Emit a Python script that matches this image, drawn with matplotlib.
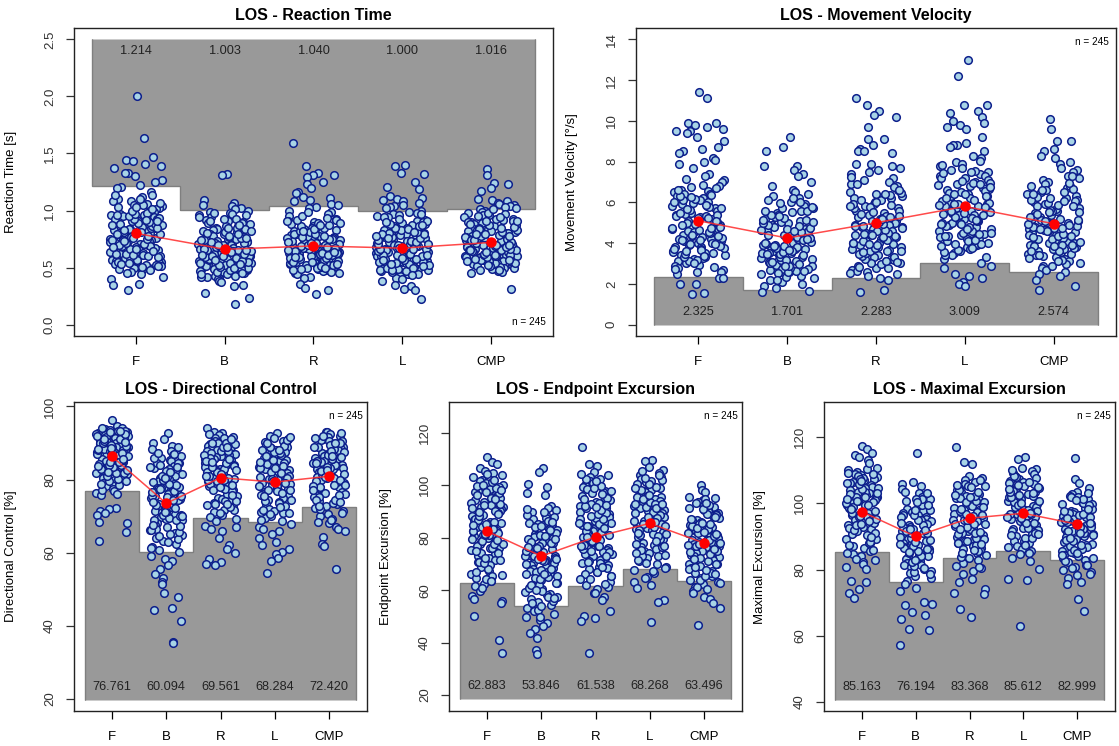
import matplotlib
matplotlib.use("Agg")
import matplotlib.pyplot as plt
import numpy as np

plt.rcParams['font.family'] = ['Liberation Sans', 'DejaVu Sans']

categories = ["F", "B", "R", "L", "CMP"]
n_label = "n = 245"

# ---------------- Reaction Time [s] ----------------
rt_F = [2.00, 1.64, 1.47, 1.44, 1.43, 1.41, 1.39, 1.37, 1.33, 1.33, 1.30, 1.27, 1.25, 1.22, 1.21, 1.20,
        1.16, 1.14, 1.12, 1.10, 1.08, 1.06, 1.05, 1.04, 1.02, 1.01, 0.99, 0.97, 0.96, 0.95, 0.93, 0.92,
        0.91, 0.90, 0.88, 0.87, 0.86, 0.85, 0.84, 0.83, 0.82, 0.80, 0.79, 0.78, 0.77, 0.76, 0.75, 0.74,
        0.73, 0.72, 0.71, 0.70, 0.69, 0.68, 0.67, 0.66, 0.65, 0.64, 0.63, 0.62, 0.61, 0.60, 0.59, 0.58,
        0.57, 0.56, 0.55, 0.54, 0.53, 0.52, 0.51, 0.50, 0.49, 0.48, 0.46, 0.45, 0.44, 0.42, 0.40, 0.36,
        0.35, 0.30,
        0.512, 0.547, 0.583, 0.604, 0.618, 0.633, 0.652, 0.671, 0.688, 0.703, 0.719, 0.734, 0.752, 0.768,
        0.785, 0.802, 0.817, 0.836, 0.853, 0.871, 0.889, 0.906, 0.924, 0.943, 0.962, 0.981, 1.012, 1.046,
        1.083, 0.557, 0.628, 0.693, 0.744, 0.812, 0.877, 0.930, 0.495, 0.535, 0.598, 0.663,
        0.523, 0.566, 0.592, 0.611, 0.642, 0.659, 0.679, 0.697, 0.711, 0.727, 0.741, 0.759, 0.773, 0.791,
        0.808, 0.826, 0.843, 0.862, 0.881, 0.898, 0.915, 0.936, 0.955, 0.973, 0.994, 1.028, 1.065, 1.103,
        1.137, 0.476, 0.505, 0.540, 0.620, 0.680, 0.735, 0.795, 0.845, 0.905, 0.965, 1.030]
rt_B = [1.32, 1.31, 1.09, 1.07, 1.05, 1.04, 1.02, 1.01, 1.00, 0.99, 0.98, 0.97, 0.96, 0.94, 0.93, 0.92,
        0.91, 0.90, 0.89, 0.88, 0.86, 0.85, 0.84, 0.83, 0.82, 0.81, 0.80, 0.79, 0.78, 0.77, 0.76, 0.75,
        0.74, 0.73, 0.72, 0.71, 0.70, 0.69, 0.68, 0.67, 0.66, 0.65, 0.64, 0.63, 0.62, 0.61, 0.60, 0.60,
        0.59, 0.58, 0.57, 0.56, 0.55, 0.54, 0.53, 0.52, 0.51, 0.50, 0.49, 0.48, 0.47, 0.46, 0.45, 0.44,
        0.43, 0.42, 0.41, 0.40, 0.38, 0.37, 0.35, 0.34, 0.28, 0.23, 0.18,
        0.428, 0.452, 0.476, 0.497, 0.515, 0.533, 0.548, 0.566, 0.581, 0.597, 0.612, 0.628, 0.643, 0.657,
        0.672, 0.688, 0.703, 0.719, 0.736, 0.752, 0.771, 0.792, 0.813, 0.836, 0.862, 0.891, 0.925, 0.957,
        0.487, 0.538, 0.574, 0.619, 0.664, 0.706, 0.758, 0.550, 0.600, 0.650, 0.525, 0.585,
        0.415, 0.440, 0.465, 0.482, 0.505, 0.520, 0.542, 0.558, 0.571, 0.589, 0.604, 0.621, 0.635, 0.649,
        0.662, 0.679, 0.694, 0.711, 0.727, 0.744, 0.762, 0.781, 0.802, 0.824, 0.848, 0.877, 0.908, 0.940,
        0.980, 0.455, 0.495, 0.530, 0.565, 0.610, 0.655, 0.695, 0.740, 0.790, 0.845]
rt_R = [1.59, 1.39, 1.33, 1.31, 1.31, 1.29, 1.25, 1.23, 1.20, 1.16, 1.15, 1.12, 1.11, 1.09, 1.08, 1.06,
        1.05, 1.03, 1.02, 1.00, 0.99, 0.97, 0.95, 0.93, 0.92, 0.91, 0.90, 0.89, 0.88, 0.87, 0.86, 0.85,
        0.84, 0.83, 0.82, 0.81, 0.80, 0.79, 0.78, 0.77, 0.76, 0.75, 0.74, 0.73, 0.72, 0.71, 0.70, 0.69,
        0.68, 0.67, 0.66, 0.65, 0.64, 0.63, 0.62, 0.61, 0.60, 0.59, 0.58, 0.57, 0.56, 0.55, 0.54, 0.53,
        0.52, 0.51, 0.50, 0.49, 0.48, 0.47, 0.46, 0.45, 0.44, 0.42, 0.41, 0.36, 0.32, 0.30, 0.27,
        0.462, 0.483, 0.505, 0.524, 0.541, 0.558, 0.573, 0.589, 0.604, 0.619, 0.634, 0.648, 0.663, 0.678,
        0.692, 0.707, 0.722, 0.738, 0.754, 0.771, 0.789, 0.808, 0.829, 0.851, 0.877, 0.905, 0.938, 0.512,
        0.566, 0.611, 0.655, 0.699, 0.745, 0.795, 0.536, 0.582, 0.627, 0.672, 0.717,
        0.455, 0.475, 0.495, 0.518, 0.532, 0.549, 0.565, 0.580, 0.596, 0.612, 0.626, 0.641, 0.656, 0.670,
        0.685, 0.700, 0.714, 0.730, 0.746, 0.762, 0.780, 0.798, 0.818, 0.840, 0.864, 0.890, 0.920, 0.955,
        0.985, 0.500, 0.545, 0.590, 0.635, 0.680, 0.725, 0.770, 0.820, 0.875]
rt_L = [1.40, 1.39, 1.33, 1.32, 1.25, 1.21, 1.19, 1.13, 1.11, 1.10, 1.09, 1.08, 1.07, 1.05, 1.04, 1.03,
        1.02, 1.00, 0.99, 0.98, 0.97, 0.96, 0.95, 0.94, 0.92, 0.91, 0.90, 0.89, 0.88, 0.87, 0.86, 0.85,
        0.84, 0.83, 0.82, 0.81, 0.80, 0.79, 0.78, 0.77, 0.76, 0.75, 0.74, 0.73, 0.72, 0.71, 0.70, 0.69,
        0.68, 0.67, 0.66, 0.65, 0.64, 0.63, 0.62, 0.61, 0.60, 0.59, 0.58, 0.57, 0.56, 0.55, 0.54, 0.53,
        0.52, 0.51, 0.50, 0.49, 0.48, 0.47, 0.46, 0.45, 0.44, 0.43, 0.41, 0.40, 0.38, 0.35, 0.34, 0.31,
        0.30, 0.22,
        0.445, 0.468, 0.489, 0.509, 0.527, 0.544, 0.559, 0.575, 0.590, 0.605, 0.621, 0.636, 0.651, 0.666,
        0.681, 0.697, 0.713, 0.729, 0.746, 0.764, 0.783, 0.803, 0.826, 0.851, 0.879, 0.911, 0.947, 0.498,
        0.552, 0.598, 0.643, 0.689, 0.737, 0.790, 0.520, 0.567, 0.612, 0.658,
        0.435, 0.458, 0.479, 0.499, 0.518, 0.535, 0.551, 0.567, 0.582, 0.597, 0.613, 0.628, 0.644, 0.659,
        0.674, 0.689, 0.705, 0.721, 0.738, 0.755, 0.773, 0.793, 0.814, 0.838, 0.865, 0.895, 0.930, 0.970,
        0.480, 0.530, 0.575, 0.620, 0.665, 0.710, 0.760, 0.815, 0.875]
rt_CMP = [1.36, 1.31, 1.24, 1.23, 1.20, 1.17, 1.10, 1.09, 1.08, 1.07, 1.06, 1.05, 1.04, 1.03, 1.02, 1.01,
          1.00, 0.99, 0.98, 0.97, 0.96, 0.95, 0.94, 0.93, 0.92, 0.91, 0.90, 0.89, 0.88, 0.87, 0.86, 0.85,
          0.84, 0.83, 0.82, 0.81, 0.80, 0.79, 0.78, 0.77, 0.76, 0.75, 0.74, 0.73, 0.72, 0.71, 0.70, 0.69,
          0.68, 0.67, 0.66, 0.65, 0.64, 0.63, 0.62, 0.61, 0.60, 0.59, 0.58, 0.57, 0.56, 0.55, 0.54, 0.53,
          0.52, 0.51, 0.50, 0.49, 0.48, 0.47, 0.46, 0.45, 0.31,
          0.483, 0.507, 0.528, 0.547, 0.565, 0.582, 0.598, 0.613, 0.628, 0.643, 0.658, 0.673, 0.688, 0.703,
          0.718, 0.734, 0.750, 0.767, 0.785, 0.804, 0.824, 0.846, 0.870, 0.897, 0.928, 0.962, 0.536, 0.589,
          0.636, 0.681, 0.727, 0.776, 0.830, 0.555, 0.605, 0.650, 0.695,
          0.475, 0.495, 0.518, 0.538, 0.556, 0.574, 0.590, 0.606, 0.621, 0.636, 0.651, 0.666, 0.681, 0.696,
          0.711, 0.726, 0.742, 0.759, 0.776, 0.795, 0.814, 0.835, 0.858, 0.883, 0.912, 0.945, 0.980, 1.015,
          0.520, 0.565, 0.610, 0.655, 0.700, 0.745, 0.795, 0.850, 0.905]
rt_means = [0.80, 0.66, 0.69, 0.67, 0.72]
rt_limits = [1.214, 1.003, 1.040, 1.000, 1.016]

# ---------------- Movement Velocity [deg/s] ----------------
mv_F = [11.4, 11.1, 9.9, 9.9, 9.8, 9.7, 9.6, 9.5, 9.5, 9.4, 9.2, 9.0, 8.7, 8.6, 8.5, 8.4, 8.2, 8.1, 8.0,
        7.9, 7.7, 7.4, 7.3, 7.1, 7.0, 6.8, 6.7, 6.6, 6.5, 6.4, 6.3, 6.2, 6.1, 6.0, 5.9, 5.8, 5.7, 5.6,
        5.5, 5.4, 5.3, 5.2, 5.1, 5.0, 4.9, 4.8, 4.7, 4.6, 4.5, 4.4, 4.3, 4.2, 4.1, 4.0, 3.9, 3.8, 3.7,
        3.6, 3.5, 3.4, 3.3, 3.2, 3.1, 3.0, 2.9, 2.8, 2.7, 2.6, 2.5, 2.3, 2.3, 2.0, 2.0, 1.55, 1.5,
        3.12, 3.27, 3.41, 3.56, 3.68, 3.83, 3.97, 4.09, 4.22, 4.36, 4.48, 4.61, 4.74, 4.87, 5.02, 5.16,
        5.31, 5.45, 5.62, 5.78, 5.95, 6.13, 6.32, 6.54, 6.77, 3.35, 3.77, 4.15, 4.55, 4.93, 5.38, 5.86,
        6.41, 2.85, 3.05,
        2.72, 2.94, 3.18, 3.31, 3.46, 3.61, 3.73, 3.88, 4.02, 4.13, 4.27, 4.41, 4.53, 4.66, 4.79, 4.92,
        5.07, 5.21, 5.35, 5.50, 5.67, 5.83, 6.01, 6.19, 6.38, 6.60, 6.85, 7.15, 3.50, 3.95, 4.35, 4.75,
        5.25, 5.70, 6.25, 2.60, 3.00]
mv_B = [9.2, 8.7, 8.5, 7.8, 7.8, 7.6, 7.4, 7.3, 7.0, 6.8, 6.6, 6.5, 6.4, 6.3, 6.2, 6.1, 6.0, 5.9, 5.8,
        5.7, 5.6, 5.5, 5.4, 5.3, 5.2, 5.1, 5.0, 4.9, 4.8, 4.7, 4.6, 4.5, 4.4, 4.3, 4.2, 4.1, 4.0, 3.9,
        3.8, 3.7, 3.6, 3.5, 3.4, 3.3, 3.2, 3.1, 3.0, 2.9, 2.8, 2.7, 2.6, 2.5, 2.4, 2.3, 2.2, 2.1, 2.0,
        1.9, 1.8, 1.65, 1.6,
        2.46, 2.63, 2.78, 2.92, 3.06, 3.19, 3.32, 3.45, 3.57, 3.69, 3.82, 3.94, 4.07, 4.19, 4.32, 4.45,
        4.59, 4.73, 4.88, 5.04, 5.21, 5.39, 5.58, 5.79, 6.03, 2.71, 3.13, 3.51, 3.88, 4.26, 4.65, 5.12,
        2.55, 2.98, 3.63,
        2.36, 2.58, 2.74, 2.88, 3.02, 3.15, 3.28, 3.40, 3.52, 3.64, 3.76, 3.89, 4.02, 4.14, 4.27, 4.40,
        4.53, 4.67, 4.82, 4.97, 5.14, 5.32, 5.51, 5.72, 5.95, 6.20, 2.65, 3.08, 3.46, 3.84, 4.22, 4.60,
        5.05, 5.60, 2.20, 2.90]
mv_R = [11.1, 10.8, 10.5, 10.3, 10.2, 9.7, 9.1, 9.1, 8.8, 8.6, 8.5, 8.5, 8.4, 7.9, 7.9, 7.8, 7.7, 7.6,
        7.5, 7.4, 7.2, 7.0, 6.9, 6.8, 6.6, 6.5, 6.4, 6.3, 6.2, 6.1, 6.0, 5.9, 5.8, 5.7, 5.6, 5.5, 5.4,
        5.3, 5.2, 5.1, 5.0, 4.9, 4.8, 4.7, 4.6, 4.5, 4.4, 4.3, 4.2, 4.1, 4.0, 3.9, 3.8, 3.7, 3.6, 3.5,
        3.4, 3.3, 3.2, 3.1, 3.0, 2.9, 2.8, 2.7, 2.6, 2.5, 2.4, 2.3, 2.2, 1.7, 1.6,
        2.62, 2.85, 3.04, 3.22, 3.38, 3.53, 3.68, 3.82, 3.96, 4.10, 4.23, 4.37, 4.51, 4.65, 4.79, 4.94,
        5.09, 5.25, 5.42, 5.60, 5.79, 6.00, 6.23, 6.48, 6.76, 7.08, 3.15, 3.61, 4.03, 4.44, 4.86, 5.33,
        5.88,
        2.55, 2.76, 2.96, 3.13, 3.30, 3.46, 3.61, 3.75, 3.89, 4.03, 4.16, 4.30, 4.44, 4.58, 4.72, 4.87,
        5.02, 5.17, 5.34, 5.51, 5.70, 5.90, 6.12, 6.36, 6.62, 6.92, 7.25, 3.05, 3.55, 3.98, 4.40, 4.82,
        5.27, 5.80, 6.40]
mv_L = [13.0, 12.2, 10.8, 10.8, 10.5, 10.4, 10.2, 10.0, 9.9, 9.8, 9.7, 9.6, 9.2, 8.9, 8.8, 8.8, 8.7,
        8.5, 8.3, 8.2, 8.0, 7.9, 7.8, 7.6, 7.5, 7.4, 7.3, 7.2, 7.1, 7.0, 6.9, 6.8, 6.7, 6.6, 6.5, 6.4,
        6.3, 6.2, 6.1, 6.0, 5.9, 5.8, 5.7, 5.6, 5.5, 5.4, 5.3, 5.2, 5.1, 5.0, 4.9, 4.8, 4.7, 4.6, 4.5,
        4.4, 4.3, 4.2, 4.1, 4.0, 3.9, 3.8, 3.7, 3.6, 3.5, 3.4, 3.2, 3.0, 2.9, 2.8, 2.5, 2.4, 2.3, 2.1,
        2.0, 1.9,
        3.42, 3.66, 3.88, 4.08, 4.27, 4.44, 4.61, 4.77, 4.93, 5.08, 5.23, 5.38, 5.53, 5.68, 5.83, 5.98,
        6.14, 6.31, 6.48, 6.66, 6.85, 7.06, 7.29, 7.55, 7.84, 3.95, 4.52, 5.01, 5.46, 5.91, 6.39, 6.95,
        4.35, 5.15,
        3.30, 3.55, 3.78, 3.98, 4.17, 4.35, 4.52, 4.69, 4.85, 5.00, 5.15, 5.30, 5.45, 5.60, 5.75, 5.90,
        6.06, 6.22, 6.39, 6.57, 6.76, 6.96, 7.18, 7.42, 7.70, 8.05, 3.85, 4.45, 4.95, 5.40, 5.85, 6.32,
        6.88, 7.50]
mv_CMP = [10.1, 9.6, 9.0, 9.0, 8.6, 8.5, 8.3, 8.2, 8.0, 7.9, 7.7, 7.6, 7.5, 7.3, 7.2, 7.1, 7.0, 6.9,
          6.8, 6.7, 6.6, 6.5, 6.4, 6.3, 6.2, 6.1, 6.0, 5.9, 5.8, 5.7, 5.6, 5.5, 5.4, 5.3, 5.2, 5.1, 5.0,
          4.9, 4.8, 4.7, 4.6, 4.5, 4.4, 4.3, 4.2, 4.1, 4.0, 3.9, 3.8, 3.7, 3.6, 3.5, 3.4, 3.3, 3.2, 3.1,
          3.0, 2.9, 2.8, 2.7, 2.6, 2.5, 2.4, 2.2, 1.9, 1.7,
          2.98, 3.19, 3.38, 3.55, 3.71, 3.86, 4.00, 4.14, 4.27, 4.40, 4.53, 4.66, 4.79, 4.92, 5.06, 5.20,
          5.35, 5.51, 5.68, 5.86, 6.06, 6.28, 6.52, 6.79, 3.45, 3.93, 4.34, 4.72, 5.13, 5.58, 6.12, 3.62,
          2.90, 3.10, 3.29, 3.46, 3.63, 3.78, 3.93, 4.07, 4.20, 4.33, 4.46, 4.60, 4.73, 4.86, 5.00, 5.14,
          5.29, 5.45, 5.62, 5.80, 5.99, 6.20, 6.43, 6.68, 6.97, 7.30, 3.40, 3.88, 4.30, 4.68, 5.08, 5.52,
          6.05, 6.60]
mv_means = [5.10, 4.25, 5.00, 5.80, 4.95]
mv_limits = [2.325, 1.701, 2.283, 3.009, 2.574]

# ---------------- Directional Control [%] ----------------
dc_F = [96.4, 94.6, 94.1, 93.8, 93.5, 93.2, 93.0, 92.7, 92.5, 92.2, 92.0, 91.8, 91.5, 91.3, 91.0, 90.8,
        90.5, 90.3, 90.1, 89.8, 89.5, 89.3, 89.0, 88.8, 88.5, 88.2, 88.0, 87.7, 87.4, 87.1, 86.9, 86.6,
        86.3, 86.0, 85.7, 85.4, 85.1, 84.8, 84.5, 84.2, 83.9, 83.5, 83.2, 82.8, 82.5, 82.1, 81.7, 81.3,
        80.9, 80.5, 80.0, 79.6, 79.1, 78.6, 78.1, 77.5, 76.9, 76.3, 76.0, 75.8, 72.3, 72.0, 71.4, 70.8,
        70.3, 68.4, 68.1, 65.6, 63.3,
        80.7, 81.5, 82.3, 83.0, 83.7, 84.4, 85.1, 85.7, 86.3, 86.9, 87.5, 88.1, 88.7, 89.3, 89.9, 90.5,
        91.1, 91.7, 92.4, 93.2, 81.9, 84.0, 86.1, 88.4, 90.2, 78.4, 79.7, 77.2,
        78.9, 80.2, 81.1, 81.8, 82.6, 83.3, 84.1, 84.7, 85.4, 86.0, 86.6, 87.2, 87.8, 88.3, 88.9, 89.4,
        90.0, 90.6, 91.2, 91.8, 92.5, 93.3, 94.0, 79.5, 82.0, 84.9, 87.6, 90.3, 92.9, 85.6, 88.6, 83.6]
dc_B = [92.6, 91.2, 90.1, 89.3, 88.4, 87.9, 87.2, 86.8, 86.3, 85.9, 85.4, 85.0, 84.6, 84.1, 83.7, 83.2,
        82.8, 82.3, 81.9, 81.4, 81.0, 80.5, 80.1, 79.6, 79.2, 78.7, 78.3, 77.8, 77.4, 76.9, 76.5, 76.0,
        75.6, 75.1, 74.7, 74.2, 73.8, 73.3, 72.9, 72.4, 72.0, 71.5, 71.1, 70.6, 70.2, 69.7, 69.3, 68.8,
        68.2, 67.6, 67.0, 66.3, 65.5, 64.8, 64.0, 63.1, 62.3, 61.5, 60.8, 60.1, 59.2, 58.4, 57.6, 56.5,
        55.5, 54.2, 53.0, 52.0, 51.4, 48.9, 47.8, 44.9, 44.4, 41.2, 35.6, 35.4,
        63.8, 65.6, 67.3, 68.9, 70.4, 71.8, 73.1, 74.4, 75.6, 76.8, 78.0, 79.1, 80.2, 81.3, 82.4, 83.5,
        84.6, 85.8, 87.1, 69.6, 72.5, 75.2, 77.9, 80.7, 66.4, 71.2, 74.9, 78.5,
        61.2, 63.0, 64.6, 66.1, 67.5, 68.8, 70.0, 71.2, 72.3, 73.4, 74.5, 75.6, 76.7, 77.7, 78.8, 79.9,
        81.0, 82.1, 83.3, 84.5, 85.8, 87.3, 89.0, 65.2, 69.9, 73.9, 77.3, 80.5, 84.0]
dc_R = [94.2, 93.0, 92.6, 92.1, 91.7, 91.3, 90.9, 90.5, 90.1, 89.7, 89.3, 88.9, 88.5, 88.1, 87.7, 87.3,
        86.9, 86.5, 86.1, 85.7, 85.3, 84.9, 84.5, 84.1, 83.7, 83.3, 82.9, 82.5, 82.1, 81.7, 81.3, 80.9,
        80.5, 80.1, 79.6, 79.1, 78.6, 78.1, 77.6, 77.1, 76.6, 76.1, 75.5, 74.9, 74.3, 73.7, 73.1, 72.5,
        71.8, 71.1, 70.4, 69.7, 69.1, 67.2, 66.9, 66.6, 66.0, 64.0, 62.1, 61.0, 60.0, 58.3, 57.4, 56.9,
        56.6,
        71.6, 73.2, 74.7, 76.1, 77.4, 78.7, 79.9, 81.1, 82.3, 83.5, 84.6, 85.7, 86.8, 87.9, 89.0, 90.1,
        91.3, 76.9, 80.4, 83.9, 87.3, 74.0, 78.2, 82.8, 86.0, 89.6,
        68.6, 70.8, 72.6, 74.2, 75.7, 77.1, 78.4, 79.7, 80.9, 82.1, 83.3, 84.4, 85.5, 86.6, 87.7, 88.8,
        90.0, 91.2, 92.5, 73.4, 77.9, 81.6, 85.2, 88.9, 80.0, 84.8]
dc_L = [92.8, 91.9, 91.4, 91.0, 90.6, 90.2, 89.8, 89.4, 89.0, 88.6, 88.2, 87.8, 87.4, 87.0, 86.6, 86.2,
        85.8, 85.4, 85.0, 84.6, 84.2, 83.8, 83.4, 83.0, 82.6, 82.2, 81.8, 81.4, 81.0, 80.6, 80.2, 79.8,
        79.4, 79.0, 78.5, 78.0, 77.5, 77.0, 76.5, 76.0, 75.5, 75.0, 74.4, 73.8, 73.2, 72.6, 72.0, 71.4,
        70.8, 70.1, 69.4, 68.7, 67.8, 66.9, 65.9, 65.0, 64.1, 63.0, 62.0, 61.1, 60.2, 59.7, 58.6, 57.6,
        54.4,
        69.5, 71.2, 72.8, 74.3, 75.7, 77.0, 78.3, 79.6, 80.8, 82.0, 83.2, 84.4, 85.6, 86.8, 88.0, 89.3,
        90.7, 73.5, 76.8, 80.1, 83.6, 87.2, 70.6, 78.9,
        66.6, 68.9, 70.9, 72.6, 74.2, 75.6, 77.0, 78.3, 79.5, 80.7, 81.9, 83.1, 84.2, 85.3, 86.4, 87.6,
        88.8, 90.1, 91.5, 71.8, 76.2, 80.3, 84.7, 88.1, 79.1]
dc_CMP = [93.1, 92.9, 92.4, 92.0, 91.6, 91.2, 90.8, 90.4, 90.0, 89.6, 89.2, 88.8, 88.4, 88.0, 87.6, 87.2,
          86.8, 86.4, 86.0, 85.6, 85.2, 84.8, 84.4, 84.0, 83.6, 83.2, 82.8, 82.4, 82.0, 81.6, 81.2, 80.8,
          80.4, 80.0, 79.5, 79.0, 78.5, 78.0, 77.5, 77.0, 76.4, 75.8, 75.2, 74.6, 74.0, 73.4, 72.8, 72.1,
          71.4, 70.7, 70.0, 69.3, 68.3, 68.0, 67.1, 66.4, 66.0, 64.2, 62.4, 61.9, 55.6,
          71.9, 73.6, 75.1, 76.6, 77.9, 79.2, 80.4, 81.6, 82.8, 83.9, 85.0, 86.1, 87.2, 88.3, 89.4, 90.6,
          91.8, 74.4, 78.1, 81.9, 85.6, 89.0, 76.0, 83.1,
          68.8, 70.9, 72.7, 74.3, 75.8, 77.2, 78.5, 79.8, 81.0, 82.2, 83.4, 84.5, 85.6, 86.7, 87.8, 88.9,
          90.1, 91.4, 92.6, 73.9, 78.4, 82.5, 86.3, 89.9, 80.6]
dc_means = [86.3, 73.5, 80.5, 79.3, 80.9]
dc_limits = [76.761, 60.094, 69.561, 68.284, 72.420]

# ---------------- Endpoint Excursion [%] ----------------
ee_F = [111.0, 109.0, 108.2, 106.5, 105.3, 104.6, 103.8, 103.0, 102.2, 101.5, 100.8, 100.1, 99.4, 98.7,
        98.0, 97.3, 96.6, 95.9, 95.2, 94.5, 93.8, 93.1, 92.4, 91.7, 91.0, 90.3, 89.6, 88.9, 88.2, 87.5,
        86.8, 86.1, 85.4, 84.7, 84.0, 83.3, 82.6, 81.9, 81.2, 80.5, 79.8, 79.1, 78.4, 77.7, 77.0, 76.2,
        75.4, 74.6, 73.8, 73.0, 72.2, 71.4, 70.6, 69.8, 69.0, 68.1, 67.2, 66.3, 65.4, 64.5, 63.5, 62.5,
        61.5, 59.8, 57.9, 56.5, 55.9, 55.2, 50.3, 41.0, 36.2,
        64.2, 67.1, 69.7, 72.0, 74.1, 76.0, 77.8, 79.5, 81.1, 82.7, 84.2, 85.7, 87.2, 88.7, 90.2, 91.8,
        93.4, 95.1, 96.9, 98.9, 101.1, 70.9, 78.6, 86.0, 92.6, 99.8, 75.1, 83.5,
        60.8, 63.4, 65.9, 68.2, 70.3, 72.3, 74.2, 76.0, 77.7, 79.3, 80.9, 82.4, 83.9, 85.4, 86.9, 88.4,
        89.9, 91.4, 93.0, 94.6, 96.3, 98.1, 100.0, 102.1, 104.4, 71.7, 81.6, 89.2, 97.5, 84.8]
ee_B = [106.8, 105.1, 100.4, 99.3, 97.2, 96.4, 92.1, 91.3, 90.6, 89.9, 89.2, 88.5, 87.8, 87.1, 86.4, 85.7,
        85.0, 84.3, 83.6, 82.9, 82.2, 81.5, 80.8, 80.1, 79.4, 78.7, 78.0, 77.3, 76.6, 75.9, 75.2, 74.5,
        73.8, 73.1, 72.4, 71.7, 71.0, 70.3, 69.6, 68.9, 68.2, 67.5, 66.8, 66.1, 65.3, 64.5, 63.7, 62.9,
        62.1, 61.2, 60.3, 59.4, 58.5, 57.5, 56.5, 55.4, 54.3, 53.2, 52.1, 51.0, 49.9, 48.7, 47.5, 46.2,
        45.0, 43.6, 41.6, 37.2, 35.6,
        52.6, 55.7, 58.3, 60.7, 62.9, 64.9, 66.8, 68.6, 70.3, 72.0, 73.6, 75.2, 76.8, 78.4, 80.0, 81.7,
        83.5, 85.4, 87.5, 89.8, 61.9, 67.7, 73.0, 78.1, 84.2, 57.4, 71.1,
        49.6, 53.8, 56.9, 59.6, 62.0, 64.2, 66.2, 68.1, 69.9, 71.6, 73.2, 74.8, 76.4, 77.9, 79.5, 81.1,
        82.8, 84.6, 86.5, 88.6, 90.9, 60.0, 66.0, 71.9, 76.0, 80.7, 86.0, 55.0]
ee_R = [114.8, 108.2, 107.4, 105.0, 104.1, 103.3, 102.5, 101.7, 100.9, 100.1, 99.3, 98.5, 97.7, 96.9,
        96.1, 95.3, 94.5, 93.7, 92.9, 92.1, 91.3, 90.5, 89.7, 88.9, 88.1, 87.3, 86.5, 85.7, 84.9, 84.1,
        83.3, 82.5, 81.7, 80.9, 80.1, 79.3, 78.5, 77.7, 76.9, 76.1, 75.3, 74.5, 73.7, 72.9, 72.1, 71.3,
        70.5, 69.7, 68.9, 68.0, 67.1, 66.2, 65.3, 64.2, 63.1, 61.9, 60.5, 59.0, 57.3, 56.2, 52.2, 50.1,
        49.2, 48.4, 36.2,
        61.3, 64.3, 67.0, 69.4, 71.6, 73.7, 75.6, 77.4, 79.2, 80.9, 82.6, 84.3, 86.0, 87.7, 89.5, 91.3,
        93.2, 95.2, 97.4, 99.8, 102.4, 70.3, 78.3, 85.1, 92.2, 74.6, 88.4,
        58.9, 62.5, 65.6, 68.3, 70.7, 72.9, 74.9, 76.8, 78.6, 80.4, 82.1, 83.8, 85.5, 87.2, 88.9, 90.7,
        92.6, 94.6, 96.7, 99.0, 101.6, 104.4, 69.0, 77.0, 84.6, 91.8, 97.9]
ee_L = [109.6, 109.1, 107.0, 105.8, 104.9, 104.1, 103.3, 102.6, 101.9, 101.2, 100.5, 99.8, 99.1, 98.4,
        97.7, 97.0, 96.3, 95.6, 94.9, 94.2, 93.5, 92.8, 92.1, 91.4, 90.7, 90.0, 89.3, 88.6, 87.9, 87.2,
        86.5, 85.8, 85.1, 84.4, 83.7, 83.0, 82.3, 81.6, 80.9, 80.2, 79.5, 78.8, 78.1, 77.4, 76.6, 75.8,
        75.0, 74.1, 73.2, 72.2, 71.2, 70.1, 69.0, 67.8, 66.5, 65.2, 63.0, 62.0, 61.0, 56.2, 55.4, 48.0,
        67.3, 70.4, 73.1, 75.5, 77.7, 79.7, 81.6, 83.4, 85.1, 86.8, 88.5, 90.2, 91.9, 93.6, 95.4, 97.3,
        99.3, 101.5, 103.8, 76.4, 84.0, 89.7, 96.1, 80.6, 92.7,
        64.8, 68.5, 71.6, 74.3, 76.7, 78.9, 80.9, 82.8, 84.6, 86.3, 88.0, 89.6, 91.2, 92.9, 94.6, 96.4,
        98.3, 100.4, 102.7, 105.3, 73.6, 81.9, 87.4, 93.0, 99.0, 86.0]
ee_CMP = [100.3, 98.2, 97.3, 95.2, 94.5, 93.8, 93.1, 92.4, 91.7, 91.0, 90.3, 89.6, 88.9, 88.2, 87.5, 86.8,
          86.1, 85.4, 84.7, 84.0, 83.3, 82.6, 81.9, 81.2, 80.5, 79.8, 79.1, 78.4, 77.7, 77.0, 76.3, 75.6,
          74.9, 74.2, 73.5, 72.8, 72.1, 71.4, 70.7, 70.0, 69.3, 68.6, 67.9, 67.2, 66.4, 65.6, 64.8, 64.0,
          63.2, 62.3, 61.4, 60.5, 59.5, 57.5, 56.5, 55.0, 53.2, 46.7,
          61.1, 64.0, 66.6, 68.9, 71.0, 73.0, 74.9, 76.7, 78.4, 80.1, 81.8, 83.5, 85.2, 86.9, 88.7, 90.6,
          92.6, 94.8, 69.8, 77.5, 84.6, 91.5, 72.2, 79.3,
          58.8, 62.6, 65.3, 67.7, 69.9, 71.9, 73.8, 75.6, 77.3, 79.0, 80.7, 82.3, 83.9, 85.6, 87.3, 89.1,
          91.0, 93.1, 95.4, 66.1, 74.5, 81.5, 88.0, 78.0]
ee_means = [82.5, 73.0, 80.3, 85.5, 78.0]
ee_limits = [62.883, 53.846, 61.538, 68.268, 63.496]

# ---------------- Maximal Excursion [%] ----------------
me_F = [117.2, 116.4, 115.3, 114.7, 114.0, 113.2, 110.6, 110.1, 109.5, 109.0, 108.5, 108.0, 107.5, 107.0,
        106.5, 106.0, 105.5, 105.0, 104.5, 104.0, 103.5, 103.0, 102.5, 102.0, 101.5, 101.0, 100.5, 100.0,
        99.5, 99.0, 98.5, 98.0, 97.5, 97.0, 96.5, 96.0, 95.4, 94.8, 94.2, 93.6, 93.0, 92.4, 91.8, 91.2,
        90.6, 90.0, 89.3, 88.6, 87.9, 87.2, 86.4, 85.6, 84.8, 84.0, 83.2, 82.4, 81.6, 80.8, 80.3, 76.6,
        76.2, 74.2, 73.0, 71.5,
        85.1, 87.3, 89.2, 90.9, 92.5, 94.0, 95.4, 96.8, 98.1, 99.4, 100.7, 102.0, 103.3, 104.7, 106.1,
        107.6, 109.2, 91.6, 97.6, 102.8, 108.3, 88.1, 95.0, 100.2,
        82.9, 85.9, 88.3, 90.3, 92.0, 93.4, 94.7, 95.9, 97.1, 98.3, 99.5, 100.7, 101.9, 103.1, 104.4,
        105.8, 107.2, 108.8, 110.5, 112.2, 89.7, 96.3, 101.3, 106.8, 93.9]
me_B = [115.2, 106.4, 105.9, 105.2, 104.3, 103.1, 102.5, 101.9, 101.3, 100.7, 100.1, 99.5, 98.9, 98.3,
        97.7, 97.1, 96.5, 95.9, 95.3, 94.7, 94.1, 93.5, 92.9, 92.3, 91.7, 91.1, 90.5, 89.9, 89.3, 88.7,
        88.1, 87.5, 86.9, 86.3, 85.7, 85.1, 84.5, 83.9, 83.3, 82.7, 82.1, 81.5, 80.9, 80.3, 79.6, 78.9,
        78.2, 77.4, 76.6, 75.7, 74.4, 73.6, 70.2, 69.6, 69.2, 67.1, 66.3, 65.1, 62.2, 61.8, 57.2,
        79.4, 81.5, 83.3, 85.0, 86.6, 88.1, 89.5, 90.9, 92.3, 93.7, 95.1, 96.5, 98.0, 99.6, 101.3, 103.1,
        84.2, 88.9, 93.0, 97.3, 81.0, 91.6, 86.1,
        78.6, 80.4, 82.4, 84.1, 85.6, 87.0, 88.4, 89.7, 91.0, 92.3, 93.6, 95.0, 96.4, 97.9, 99.5, 101.2,
        103.4, 83.0, 87.8, 92.0, 96.0, 100.4, 85.3, 94.2]
me_R = [116.9, 112.4, 111.9, 108.3, 107.7, 107.1, 106.5, 105.9, 105.3, 104.7, 104.1, 103.5, 102.9, 102.3,
        101.7, 101.1, 100.5, 99.9, 99.3, 98.7, 98.1, 97.5, 96.9, 96.3, 95.7, 95.1, 94.5, 93.9, 93.3, 92.7,
        92.1, 91.5, 90.9, 90.3, 89.7, 89.1, 88.5, 87.9, 87.2, 86.5, 85.8, 85.1, 84.4, 83.6, 82.8, 82.0,
        81.2, 80.4, 79.6, 78.6, 77.2, 76.4, 74.0, 73.0, 72.6, 68.0, 65.6,
        83.4, 85.5, 87.4, 89.1, 90.7, 92.2, 93.7, 95.1, 96.5, 97.9, 99.3, 100.8, 102.3, 103.9, 105.6,
        88.0, 92.9, 97.2, 101.6, 86.2, 94.6, 104.8,
        80.9, 83.9, 86.0, 87.8, 89.4, 90.9, 92.3, 93.7, 95.0, 96.3, 97.6, 99.0, 100.4, 101.9, 103.4,
        105.1, 106.9, 85.0, 91.3, 96.8, 102.6, 88.6, 98.4]
me_L = [113.9, 113.3, 110.8, 110.3, 109.8, 109.3, 108.8, 108.3, 107.8, 107.3, 106.8, 106.3, 105.8, 105.3,
        104.8, 104.3, 103.8, 103.3, 102.8, 102.3, 101.8, 101.3, 100.8, 100.3, 99.8, 99.3, 98.8, 98.3,
        97.8, 97.3, 96.8, 96.3, 95.8, 95.3, 94.8, 94.2, 93.6, 93.0, 92.4, 91.8, 91.2, 90.6, 90.0, 89.3,
        88.6, 87.9, 87.1, 86.3, 85.5, 84.6, 83.6, 82.5, 80.3, 77.1, 77.0, 63.1,
        86.7, 88.6, 90.3, 91.9, 93.4, 94.8, 96.2, 97.6, 99.0, 100.4, 101.8, 103.2, 104.7, 106.2, 107.9,
        89.6, 94.1, 98.3, 102.5, 92.6, 96.9, 105.4,
        84.9, 87.4, 89.4, 91.1, 92.7, 94.1, 95.5, 96.8, 98.1, 99.4, 100.7, 102.0, 103.4, 104.9, 106.5,
        108.4, 110.0, 90.8, 95.9, 100.1, 104.2, 97.2]
me_CMP = [113.8, 107.2, 106.0, 104.7, 103.3, 102.8, 102.3, 101.8, 101.3, 100.8, 100.3, 99.8, 99.3, 98.8,
          98.3, 97.8, 97.3, 96.8, 96.3, 95.8, 95.3, 94.8, 94.3, 93.8, 93.3, 92.8, 92.3, 91.8, 91.3, 90.8,
          90.3, 89.8, 89.3, 88.8, 88.3, 87.8, 87.3, 86.7, 86.1, 85.5, 84.9, 84.3, 83.6, 82.9, 82.2, 81.5,
          80.8, 79.8, 79.2, 78.4, 77.6, 76.2, 75.5, 71.0, 67.4,
          81.3, 83.5, 85.4, 87.1, 88.7, 90.2, 91.6, 93.0, 94.4, 95.8, 97.2, 98.7, 100.2, 101.9, 86.3,
          90.9, 95.1, 99.4, 84.0, 92.3, 96.6,
          78.7, 80.5, 82.5, 84.4, 86.0, 87.5, 88.9, 90.3, 91.6, 92.9, 94.2, 95.5, 96.9, 98.3, 99.8,
          101.4, 103.1, 85.0, 89.6, 93.8, 97.8, 91.0, 100.9]
me_means = [97.5, 90.0, 95.5, 97.0, 93.7]
me_limits = [85.163, 76.194, 83.368, 85.612, 82.999]

# ---------------- figure ----------------
W, H = 1119, 746
fig = plt.figure(figsize=(W / 100, H / 100), dpi=100)


def axes_px(left, top, right, bottom):
    return fig.add_axes([left / W, 1 - bottom / H, (right - left) / W, (bottom - top) / H])


GRAY = "#999999"
GRAY_EDGE = "#7f7f7f"
PT_FACE = "#a8d4e6"
PT_EDGE = "#0d1f8c"


def jitter_offsets(count, k):
    # deterministic, stratified horizontal scatter (display positions only)
    idx = np.arange(1, count + 1, dtype=np.uint64)
    h = (idx * np.uint64(2654435761) + np.uint64(97531 * (k + 1))) % np.uint64(4294967296)
    h = (h ^ (h >> np.uint64(13))) * np.uint64(1274126177) % np.uint64(4294967296)
    ranks = np.argsort(np.argsort(h))
    return (ranks + 0.5) / count * 2 - 1


def panel(ax, title, ylabel, groups, means, limits, ylim, yticks, yticklabels,
          band_base, upper_band, jit, ylabel_px, n_top):
    x_pos = np.arange(1, len(categories) + 1)
    edges = np.arange(0.5, len(categories) + 1.0, 1.0)
    ax.stairs(limits, edges, baseline=band_base, fill=True, facecolor=GRAY,
              edgecolor=GRAY_EDGE, linewidth=0.8, zorder=1)
    ax.stairs(limits, edges, baseline=band_base, fill=False, edgecolor=GRAY_EDGE,
              linewidth=0.9, zorder=1.1)
    for k, vals in enumerate(groups):
        offs = jitter_offsets(len(vals), k)
        ax.scatter(x_pos[k] + jit * offs, vals, s=30, facecolor=PT_FACE,
                   edgecolor=PT_EDGE, linewidth=1.1, zorder=3)
    ax.plot(x_pos, means, color="#ff2a2a", lw=1.1, alpha=0.85, zorder=4)
    ax.plot(x_pos, means, "o", color="#ff0000", ms=6.5, mec="#ff0000", zorder=5)
    for k, v in enumerate(limits):
        off = -12 if upper_band else 13
        ax.annotate(f"{v:.3f}", (x_pos[k], band_base), xytext=(0, off * 0.72),
                    textcoords="offset points", ha="center", va="center",
                    fontsize=9.2, color="#222222", zorder=6)
    ax.set_xlim(0.3, 5.7)
    ax.set_ylim(*ylim)
    ax.set_xticks(x_pos)
    ax.set_xticklabels(categories, fontsize=9.5)
    ax.set_yticks(yticks)
    ax.set_yticklabels(yticklabels, rotation=90, va="center", fontsize=9.5, color="#333333")
    ax.tick_params(axis="y", length=6, width=0.9, pad=7, colors="#333333")
    ax.tick_params(axis="x", length=6, width=0.9, pad=8.5)
    ax.set_title(title, fontsize=11.5, fontweight="bold", pad=6)
    ax.set_ylabel(ylabel, fontsize=9.5)
    bb = ax.get_position()
    ax.yaxis.set_label_coords(ylabel_px / (bb.width * W), 0.5)
    for sp in ax.spines.values():
        sp.set_linewidth(1.0)
        sp.set_color("#222222")
    if n_top:
        ax.text(0.985, 0.955, n_label, transform=ax.transAxes, ha="right", va="center", fontsize=7.2)
    else:
        ax.text(0.985, 0.045, n_label, transform=ax.transAxes, ha="right", va="center", fontsize=7.2)


ax1 = axes_px(74, 28, 553, 336)
panel(ax1, "LOS - Reaction Time", "Reaction Time [s]", [rt_F, rt_B, rt_R, rt_L, rt_CMP],
      rt_means, rt_limits, (-0.1, 2.6), [0, 0.5, 1.0, 1.5, 2.0, 2.5],
      ["0.0", "0.5", "1.0", "1.5", "2.0", "2.5"], 2.5, True, 0.30, -57, False)

ax2 = axes_px(636, 28, 1116, 336)
panel(ax2, "LOS - Movement Velocity", "Movement Velocity [°/s]", [mv_F, mv_B, mv_R, mv_L, mv_CMP],
      mv_means, mv_limits, (-0.56, 14.56), [0, 2, 4, 6, 8, 10, 12, 14],
      ["0", "2", "4", "6", "8", "10", "12", "14"], 0.0, False, 0.30, -58, True)

ax3 = axes_px(74, 402, 367, 711)
panel(ax3, "LOS - Directional Control", "Directional Control [%]", [dc_F, dc_B, dc_R, dc_L, dc_CMP],
      dc_means, dc_limits, (16.7, 101.2), [20, 40, 60, 80, 100],
      ["20", "40", "60", "80", "100"], 19.83, False, 0.30, -57, True)

ax4 = axes_px(449, 402, 742, 711)
panel(ax4, "LOS - Endpoint Excursion", "Endpoint Excursion [%]", [ee_F, ee_B, ee_R, ee_L, ee_CMP],
      ee_means, ee_limits, (13.9, 131.8), [20, 40, 60, 80, 100, 120],
      ["20", "40", "60", "80", "100", "120"], 18.3, False, 0.30, -57, True)

ax5 = axes_px(824, 402, 1115, 711)
panel(ax5, "LOS - Maximal Excursion", "Maximal Excursion [%]", [me_F, me_B, me_R, me_L, me_CMP],
      me_means, me_limits, (37.3, 130.6), [40, 60, 80, 100, 120],
      ["40", "60", "80", "100", "120"], 40.75, False, 0.30, -58, True)

fig.savefig("out.png", dpi=100)
